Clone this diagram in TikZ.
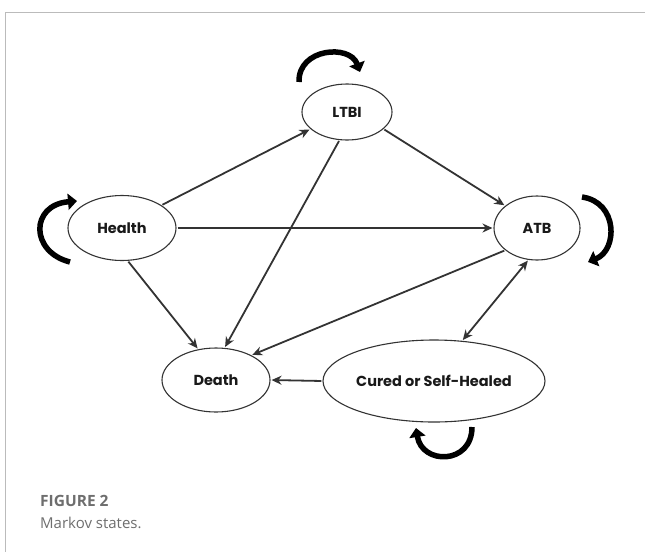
\documentclass[tikz,border=0pt]{standalone}
\usepackage{fontspec}
\setmainfont{Open Sans}
\newfontfamily\nodefont{Poppins}
\usetikzlibrary{arrows.meta,shapes.geometric}
\definecolor{edgegray}{HTML}{333333}
\definecolor{framegray}{HTML}{BBBBBB}
\definecolor{capgray}{HTML}{6E6E6E}
\begin{document}
\begin{tikzpicture}[x=1pt,y=-1pt,
  state/.style={draw=edgegray,line width=1.1pt,ellipse,inner sep=0pt},
  statetext/.style={font=\nodefont\bfseries\fontsize{14.5}{16}\selectfont,text=black!90},
  trans/.style={draw=edgegray,line width=1.8pt,-{Stealth[length=10pt,width=9pt]},shorten <=1pt,shorten >=1pt},
  selfloop/.style={draw=black,line width=5.5pt,-{Triangle[length=9pt,width=16pt]}}]
\useasboundingbox (0,0) rectangle (645,552);
% frame
\draw[framegray,line width=1pt] (645,12) -- (5,12) -- (5,552);
% states
\node[state,minimum width=90pt,minimum height=56pt] (ltbi) at (347,112) {};
\node[statetext] (ltbit) at (ltbi) {LTBI};
\node[state,minimum width=108pt,minimum height=65pt] (health) at (122,228) {};
\node[statetext] (healtht) at (health) {Health};
\node[state,minimum width=86pt,minimum height=64pt] (atb) at (537,228) {};
\node[statetext] (atbt) at (atb) {ATB};
\node[state,minimum width=108pt,minimum height=64pt] (death) at (216,380) {};
\node[statetext] (deatht) at (death) {Death};
\node[state,minimum width=222pt,minimum height=82pt] (cured) at (434,381) {};
\node[statetext] (curedt) at (cured) {Cured or Self-Healed};
% transitions
\draw[trans] (health.30) -- (ltbi.205);
\draw[trans] (health.east) -- (atb.west);
\draw[trans] (health.-80) -- (death.120);
\draw[trans] (ltbi.-105) -- (death.75);
\draw[trans] (ltbi.-25) -- (atb.145);
\draw[trans] (atb.-145) -- (death.35);
\draw[trans,{Stealth[length=10pt,width=9pt]}-{Stealth[length=10pt,width=9pt]}] (cured.55) -- (atb.-105);
\draw[trans] (cured.west) -- (death.east);
% self loops
\coordinate (l1a) at (299,82);
\coordinate (l1b) at (360,72);
\draw[selfloop] (l1a) .. controls (298,48) and (350,44) .. (l1b);
\coordinate (h1a) at (70,262);
\coordinate (h1b) at (77,201);
\draw[selfloop] (h1a) .. controls (30,252) and (30,205) .. (h1b);
\coordinate (a1a) at (582,197);
\coordinate (a1b) at (588,262);
\draw[selfloop] (a1a) .. controls (618,202) and (618,250) .. (a1b);
\coordinate (c1a) at (472,427);
\coordinate (c1b) at (416,428);
\draw[selfloop] (c1a) .. controls (472,465) and (422,465) .. (c1b);
% caption
\node[anchor=base west,inner sep=0pt,text=capgray,font=\bfseries\fontsize{15.5}{17}\selectfont] (fig) at (40,506) {FIGURE 2};
\node[anchor=base west,inner sep=0pt,text=capgray,font=\fontsize{15}{17}\selectfont] (cap) at (40,528) {Markov states.};
\end{tikzpicture}
\end{document}
